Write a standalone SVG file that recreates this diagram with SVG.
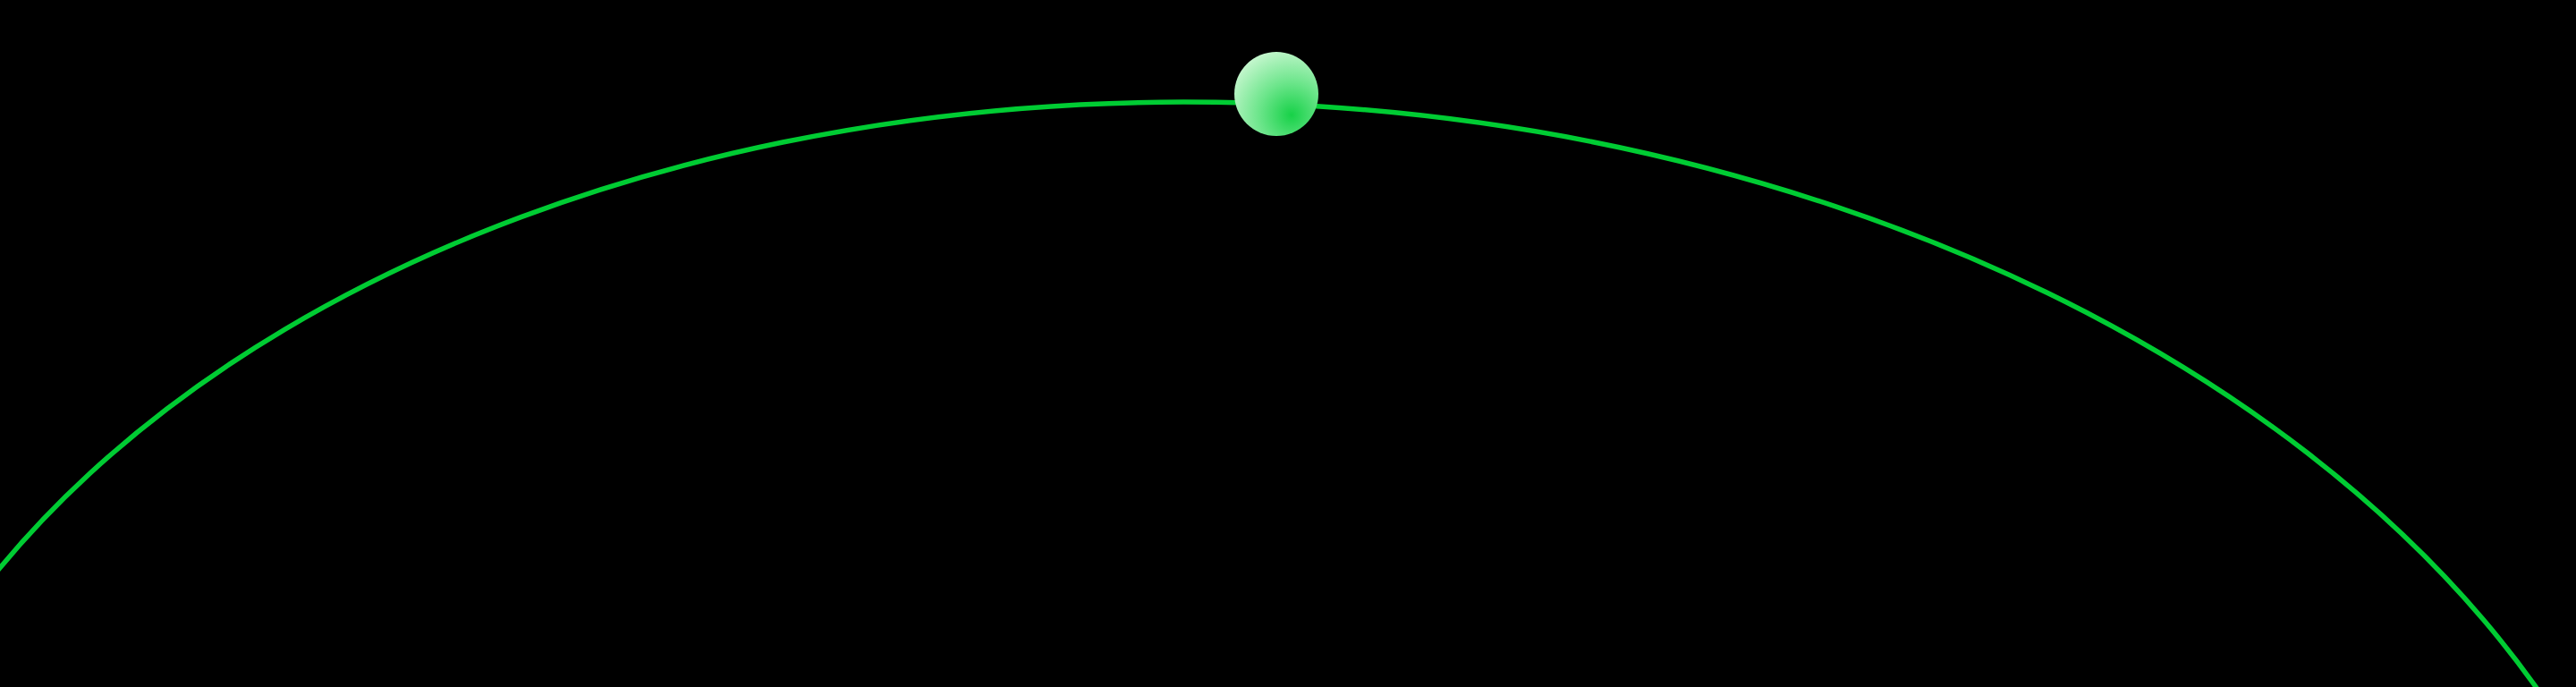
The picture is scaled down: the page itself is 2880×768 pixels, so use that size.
<svg xmlns="http://www.w3.org/2000/svg" width="2880" height="768" viewBox="0 0 2880 768">
  <defs>
    <style>
      .orbit { fill: none; stroke: #00cc33; stroke-width: 5.5; }
    </style>
    <radialGradient id="ballGrad" cx="0.68" cy="0.75" r="0.85" fx="0.68" fy="0.75">
      <stop offset="0" stop-color="#17d148"/>
      <stop offset="0.45" stop-color="#6be58a"/>
      <stop offset="1" stop-color="#cdf8d4"/>
    </radialGradient>
  </defs>
  <rect x="0" y="0" width="2880" height="768" fill="#000000"/>
  <g id="connectors">
    <ellipse id="orbit" class="orbit" cx="1402" cy="1207" rx="1602" ry="1090.5" transform="rotate(3.49 1402 1207)"/>
  </g>
  <g id="node-ball">
    <circle cx="1427" cy="105" r="47" fill="url(#ballGrad)"/>
  </g>
</svg>
